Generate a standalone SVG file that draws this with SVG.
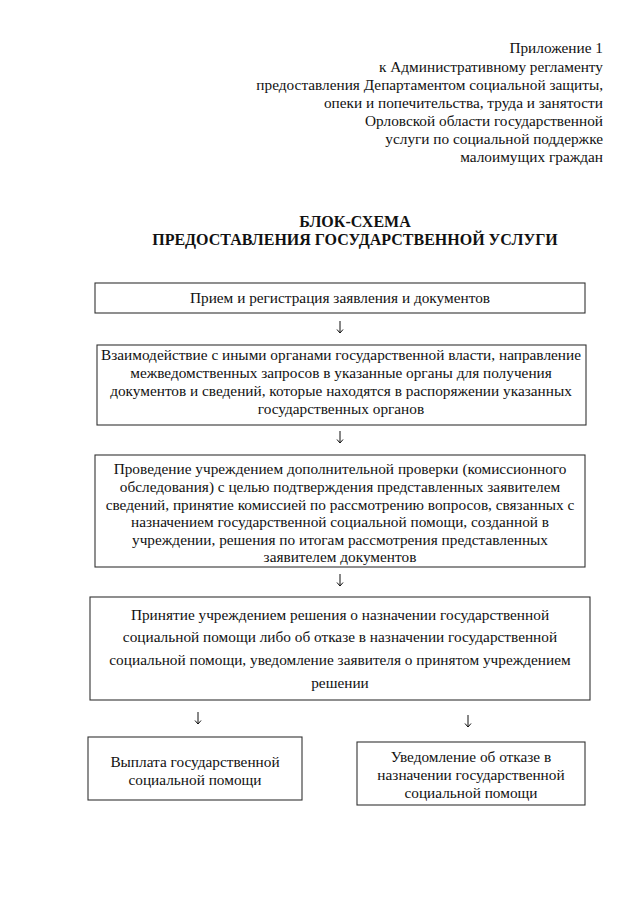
<svg xmlns="http://www.w3.org/2000/svg" width="640" height="905" viewBox="0 0 640 905">
<defs>
<style>
text{font-family:"Liberation Serif","Times New Roman",serif;font-size:15.3px;fill:#111}
.r{text-anchor:end}
.c{text-anchor:middle}
.t{font-weight:bold;font-size:16px;text-anchor:middle}
.box{fill:#fff;stroke:#333;stroke-width:1.1}
.con{fill:none;stroke:#111;stroke-width:1}
</style>
</defs>
<rect width="640" height="905" fill="#fff"/>
<g id="header">
<text class="r" x="603" y="53">Приложение 1</text>
<text class="r" x="603" y="72">к Административному регламенту</text>
<text class="r" x="603" y="90">предоставления Департаментом социальной защиты,</text>
<text class="r" x="603" y="108">опеки и попечительства, труда и занятости</text>
<text class="r" x="603" y="126">Орловской области государственной</text>
<text class="r" x="603" y="144">услуги по социальной поддержке</text>
<text class="r" x="603" y="162">малоимущих граждан</text>
</g>
<g id="title">
<text class="t" x="355" y="227">БЛОК-СХЕМА</text>
<text class="t" x="355" y="245">ПРЕДОСТАВЛЕНИЯ ГОСУДАРСТВЕННОЙ УСЛУГИ</text>
</g>
<g id="connectors">
<path class="con" d="M340 321V333M337 329.5L340 333L343 329.5"/>
<path class="con" d="M340 431V443M337 439.5L340 443L343 439.5"/>
<path class="con" d="M340 574V586M337 582.5L340 586L343 582.5"/>
<path class="con" d="M198 712V724M195 720.5L198 724L201 720.5"/>
<path class="con" d="M468 715V727M465 723.5L468 727L471 723.5"/>
</g>
<g id="node1">
<rect class="box" x="95" y="283" width="490" height="30"/>
<text class="c" x="340" y="303">Прием и регистрация заявления и документов</text>
</g>
<g id="node2">
<rect class="box" x="97" y="345" width="489" height="80"/>
<text class="c" x="341" y="360">Взаимодействие с иными органами государственной власти, направление</text>
<text class="c" x="341" y="378">межведомственных запросов в указанные органы для получения</text>
<text class="c" x="341" y="396">документов и сведений, которые находятся в распоряжении указанных</text>
<text class="c" x="341" y="414">государственных органов</text>
</g>
<g id="node3">
<rect class="box" x="95" y="455" width="490" height="112"/>
<text class="c" x="340" y="474">Проведение учреждением дополнительной проверки (комиссионного</text>
<text class="c" x="340" y="492">обследования) с целью подтверждения представленных заявителем</text>
<text class="c" x="340" y="510">сведений, принятие комиссией по рассмотрению вопросов, связанных с</text>
<text class="c" x="340" y="527">назначением государственной социальной помощи, созданной в</text>
<text class="c" x="340" y="545">учреждении, решения по итогам рассмотрения представленных</text>
<text class="c" x="340" y="562">заявителем документов</text>
</g>
<g id="node4">
<rect class="box" x="90" y="597" width="500" height="103"/>
<text class="c" x="340" y="620">Принятие учреждением решения о назначении государственной</text>
<text class="c" x="340" y="642">социальной помощи либо об отказе в назначении государственной</text>
<text class="c" x="340" y="665">социальной помощи, уведомление заявителя о принятом учреждением</text>
<text class="c" x="340" y="688">решении</text>
</g>
<g id="node5">
<rect class="box" x="88" y="737" width="214" height="63"/>
<text class="c" x="195" y="767">Выплата государственной</text>
<text class="c" x="195" y="785">социальной помощи</text>
</g>
<g id="node6">
<rect class="box" x="357" y="742" width="228" height="63"/>
<text class="c" x="471" y="762">Уведомление об отказе в</text>
<text class="c" x="471" y="780">назначении государственной</text>
<text class="c" x="471" y="798">социальной помощи</text>
</g>
</svg>
